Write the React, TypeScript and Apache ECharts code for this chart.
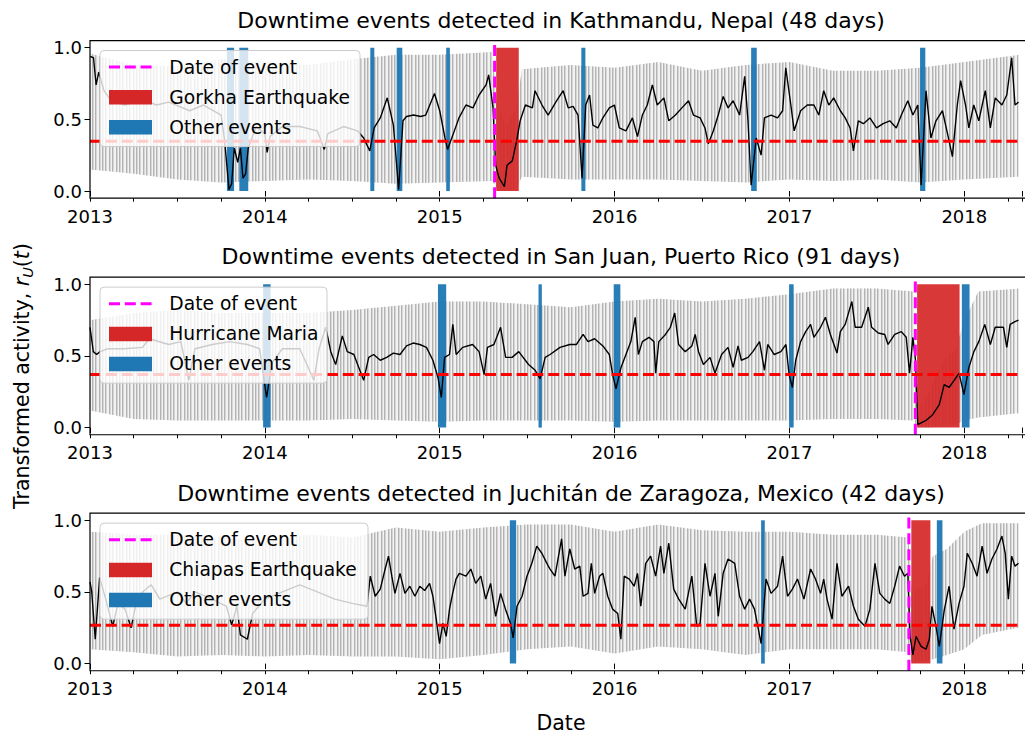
import React, { useEffect, useRef } from 'react';
import * as echarts from 'echarts';

const FONT = 'DejaVu Sans';
const X_MIN = 2013;
const X_MAX = 2018.33;

const titles = [
  'Downtime events detected in Kathmandu, Nepal (48 days)',
  'Downtime events detected in San Juan, Puerto Rico (91 days)',
  'Downtime events detected in Juchitán de Zaragoza, Mexico (42 days)',
];
const eventNames = ['Gorkha Earthquake', 'Hurricane Maria', 'Chiapas Earthquake'];
const eventDates = [2015.314, 2017.72, 2017.683];
const eventSpans = [
  [2015.323, 2015.452],
  [2017.73, 2017.973],
  [2017.697, 2017.806],
];
const thresholds = [0.347, 0.37, 0.267];

const otherEvents1 = [
  [2013.783, 2013.824], [2013.854, 2013.905], [2014.603, 2014.626], [2014.754, 2014.786],
  [2015.037, 2015.058], [2015.81, 2015.833], [2016.781, 2016.813], [2017.747, 2017.777],
];
const otherEvents2 = [
  [2013.99, 2014.033], [2014.99, 2015.037], [2015.565, 2015.584], [2015.995, 2016.033],
  [2016.998, 2017.024], [2017.986, 2018.03],
];
const otherEvents3 = [
  [2015.401, 2015.437], [2016.838, 2016.859], [2017.843, 2017.875],
];

// smoothed activity (black line): [decimal year, value]
const smooth1 = [
  [2013.0, 0.94], [2013.02, 0.93], [2013.035, 0.74], [2013.05, 0.83], [2013.08, 0.7], [2013.12, 0.63],
  [2013.2, 0.6], [2013.3, 0.64], [2013.38, 0.6], [2013.45, 0.62], [2013.57, 0.56], [2013.65, 0.6],
  [2013.75, 0.53], [2013.77, 0.35], [2013.795, 0.01], [2013.81, 0.05], [2013.825, 0.3], [2013.845, 0.2],
  [2013.86, 0.3], [2013.875, 0.09], [2013.89, 0.12], [2013.905, 0.3], [2013.95, 0.45], [2014.0, 0.4],
  [2014.013, 0.27], [2014.03, 0.38], [2014.1, 0.45], [2014.2, 0.45], [2014.3, 0.42], [2014.34, 0.29],
  [2014.36, 0.4], [2014.45, 0.45], [2014.53, 0.42], [2014.565, 0.37], [2014.6, 0.28], [2014.625, 0.44],
  [2014.66, 0.51], [2014.7, 0.65], [2014.735, 0.46], [2014.765, 0.01], [2014.79, 0.49], [2014.81, 0.52],
  [2014.85, 0.53], [2014.89, 0.52], [2014.92, 0.53], [2014.97, 0.68], [2015.0, 0.56], [2015.03, 0.37],
  [2015.045, 0.29], [2015.075, 0.39], [2015.11, 0.51], [2015.15, 0.6], [2015.19, 0.58], [2015.225, 0.67],
  [2015.265, 0.74], [2015.28, 0.81], [2015.305, 0.58], [2015.32, 0.18], [2015.34, 0.09], [2015.37, 0.03],
  [2015.385, 0.18], [2015.415, 0.21], [2015.44, 0.35], [2015.46, 0.49], [2015.49, 0.6], [2015.53, 0.58],
  [2015.545, 0.7], [2015.585, 0.6], [2015.62, 0.53], [2015.669, 0.63], [2015.706, 0.7], [2015.735, 0.58],
  [2015.763, 0.59], [2015.791, 0.53], [2015.814, 0.09], [2015.835, 0.6], [2015.857, 0.67], [2015.876, 0.46],
  [2015.904, 0.44], [2015.933, 0.51], [2015.97, 0.58], [2015.999, 0.6], [2016.027, 0.44], [2016.065, 0.42],
  [2016.102, 0.51], [2016.131, 0.38], [2016.159, 0.53], [2016.187, 0.6], [2016.216, 0.74], [2016.244, 0.6],
  [2016.282, 0.65], [2016.31, 0.49], [2016.348, 0.53], [2016.385, 0.58], [2016.423, 0.63], [2016.451, 0.53],
  [2016.489, 0.51], [2016.517, 0.44], [2016.536, 0.33], [2016.565, 0.42], [2016.593, 0.53], [2016.621, 0.66],
  [2016.649, 0.58], [2016.678, 0.63], [2016.715, 0.53], [2016.744, 0.8], [2016.763, 0.49], [2016.781, 0.04],
  [2016.81, 0.37], [2016.838, 0.25], [2016.857, 0.51], [2016.895, 0.53], [2016.932, 0.51], [2016.961, 0.56],
  [2016.979, 0.86], [2017.008, 0.6], [2017.027, 0.42], [2017.064, 0.56], [2017.102, 0.6], [2017.14, 0.6],
  [2017.168, 0.53], [2017.196, 0.7], [2017.225, 0.6], [2017.253, 0.65], [2017.291, 0.56], [2017.319, 0.51],
  [2017.347, 0.44], [2017.366, 0.28], [2017.394, 0.49], [2017.423, 0.47], [2017.46, 0.51], [2017.498, 0.44],
  [2017.536, 0.47], [2017.574, 0.49], [2017.611, 0.44], [2017.64, 0.53], [2017.677, 0.63], [2017.706, 0.53],
  [2017.734, 0.6], [2017.753, 0.04], [2017.781, 0.7], [2017.809, 0.37], [2017.838, 0.49], [2017.875, 0.56],
  [2017.904, 0.4], [2017.932, 0.24], [2017.96, 0.6], [2017.979, 0.77], [2018.007, 0.6], [2018.026, 0.44],
  [2018.054, 0.6], [2018.083, 0.49], [2018.12, 0.7], [2018.149, 0.44], [2018.177, 0.65], [2018.215, 0.6],
  [2018.243, 0.67], [2018.271, 0.93], [2018.29, 0.6], [2018.31, 0.62],
];
const smooth2 = [
  [2013.0, 0.7], [2013.019, 0.53], [2013.038, 0.51], [2013.057, 0.53], [2013.1, 0.55], [2013.2, 0.55],
  [2013.3, 0.56], [2013.34, 0.62], [2013.45, 0.58], [2013.52, 0.6], [2013.565, 0.33], [2013.6, 0.55],
  [2013.7, 0.58], [2013.8, 0.6], [2013.9, 0.58], [2013.97, 0.55], [2014.01, 0.21], [2014.04, 0.45],
  [2014.1, 0.55], [2014.2, 0.55], [2014.28, 0.33], [2014.31, 0.55], [2014.348, 0.7], [2014.377, 0.53],
  [2014.405, 0.44], [2014.443, 0.64], [2014.471, 0.53], [2014.509, 0.51], [2014.537, 0.42], [2014.565, 0.33],
  [2014.594, 0.49], [2014.622, 0.51], [2014.66, 0.47], [2014.697, 0.49], [2014.735, 0.52], [2014.773, 0.51],
  [2014.81, 0.57], [2014.848, 0.59], [2014.886, 0.58], [2014.924, 0.56], [2014.961, 0.47], [2014.99, 0.35],
  [2015.009, 0.21], [2015.028, 0.49], [2015.056, 0.51], [2015.075, 0.72], [2015.094, 0.51], [2015.131, 0.56],
  [2015.188, 0.58], [2015.225, 0.53], [2015.254, 0.37], [2015.273, 0.56], [2015.31, 0.58], [2015.348, 0.7],
  [2015.377, 0.49], [2015.414, 0.49], [2015.452, 0.53], [2015.508, 0.44], [2015.546, 0.4], [2015.574, 0.34],
  [2015.603, 0.49], [2015.631, 0.51], [2015.688, 0.56], [2015.744, 0.58], [2015.782, 0.58], [2015.82, 0.65],
  [2015.848, 0.6], [2015.886, 0.62], [2015.933, 0.57], [2015.97, 0.51], [2015.989, 0.37], [2016.008, 0.27],
  [2016.037, 0.42], [2016.065, 0.51], [2016.093, 0.6], [2016.118, 0.77], [2016.136, 0.51], [2016.159, 0.6],
  [2016.197, 0.63], [2016.225, 0.6], [2016.235, 0.38], [2016.253, 0.6], [2016.291, 0.65], [2016.319, 0.7],
  [2016.344, 0.8], [2016.366, 0.58], [2016.404, 0.53], [2016.442, 0.57], [2016.461, 0.65], [2016.48, 0.53],
  [2016.508, 0.44], [2016.546, 0.49], [2016.574, 0.38], [2016.612, 0.51], [2016.649, 0.56], [2016.678, 0.42],
  [2016.706, 0.57], [2016.725, 0.47], [2016.763, 0.49], [2016.791, 0.53], [2016.829, 0.6], [2016.857, 0.4],
  [2016.876, 0.58], [2016.913, 0.51], [2016.951, 0.53], [2016.98, 0.58], [2016.998, 0.37], [2017.017, 0.28],
  [2017.036, 0.47], [2017.064, 0.6], [2017.093, 0.67], [2017.121, 0.72], [2017.14, 0.63], [2017.178, 0.7],
  [2017.206, 0.77], [2017.234, 0.65], [2017.272, 0.52], [2017.291, 0.67], [2017.319, 0.72], [2017.357, 0.88],
  [2017.376, 0.7], [2017.413, 0.7], [2017.451, 0.84], [2017.47, 0.7], [2017.508, 0.66], [2017.545, 0.65],
  [2017.564, 0.58], [2017.602, 0.65], [2017.64, 0.67], [2017.668, 0.63], [2017.687, 0.38], [2017.706, 0.63],
  [2017.721, 0.47], [2017.734, 0.02], [2017.781, 0.05], [2017.819, 0.09], [2017.857, 0.16], [2017.885, 0.3],
  [2017.913, 0.28], [2017.942, 0.33], [2017.97, 0.38], [2017.998, 0.23], [2018.026, 0.42], [2018.055, 0.53],
  [2018.083, 0.6], [2018.117, 0.72], [2018.149, 0.58], [2018.177, 0.7], [2018.224, 0.7], [2018.243, 0.56],
  [2018.262, 0.72], [2018.29, 0.74], [2018.31, 0.75],
];
const smooth3 = [
  [2013.0, 0.57], [2013.01, 0.5], [2013.03, 0.17], [2013.055, 0.6], [2013.09, 0.45], [2013.13, 0.26],
  [2013.16, 0.42], [2013.2, 0.38], [2013.235, 0.25], [2013.26, 0.4], [2013.3, 0.5], [2013.35, 0.55],
  [2013.4, 0.45], [2013.5, 0.5], [2013.55, 0.42], [2013.6, 0.5], [2013.7, 0.45], [2013.78, 0.4],
  [2013.81, 0.27], [2013.84, 0.4], [2013.86, 0.2], [2013.9, 0.17], [2013.93, 0.35], [2014.0, 0.45],
  [2014.1, 0.5], [2014.2, 0.55], [2014.3, 0.5], [2014.4, 0.45], [2014.5, 0.42], [2014.584, 0.4],
  [2014.603, 0.61], [2014.631, 0.47], [2014.66, 0.52], [2014.688, 0.66], [2014.707, 0.75], [2014.726, 0.61],
  [2014.744, 0.49], [2014.773, 0.63], [2014.801, 0.49], [2014.829, 0.54], [2014.858, 0.47], [2014.886, 0.54],
  [2014.914, 0.51], [2014.942, 0.56], [2014.961, 0.47], [2014.98, 0.31], [2014.999, 0.14], [2015.018, 0.28],
  [2015.037, 0.19], [2015.056, 0.38], [2015.074, 0.49], [2015.093, 0.59], [2015.112, 0.63], [2015.15, 0.61],
  [2015.178, 0.66], [2015.206, 0.56], [2015.235, 0.61], [2015.263, 0.45], [2015.291, 0.56], [2015.32, 0.33],
  [2015.348, 0.49], [2015.376, 0.38], [2015.405, 0.28], [2015.42, 0.18], [2015.442, 0.4], [2015.471, 0.47],
  [2015.499, 0.61], [2015.527, 0.7], [2015.555, 0.82], [2015.584, 0.77], [2015.621, 0.68], [2015.631, 0.66],
  [2015.659, 0.61], [2015.697, 0.87], [2015.716, 0.61], [2015.744, 0.8], [2015.772, 0.66], [2015.801, 0.68],
  [2015.82, 0.47], [2015.848, 0.49], [2015.867, 0.7], [2015.886, 0.49], [2015.914, 0.61], [2015.933, 0.63],
  [2015.961, 0.47], [2015.989, 0.38], [2016.018, 0.35], [2016.036, 0.17], [2016.055, 0.61], [2016.084, 0.59],
  [2016.112, 0.54], [2016.131, 0.63], [2016.15, 0.4], [2016.178, 0.7], [2016.206, 0.75], [2016.235, 0.61],
  [2016.263, 0.82], [2016.282, 0.63], [2016.31, 0.84], [2016.338, 0.52], [2016.367, 0.45], [2016.404, 0.38],
  [2016.442, 0.61], [2016.47, 0.26], [2016.489, 0.28], [2016.517, 0.7], [2016.546, 0.47], [2016.574, 0.63],
  [2016.593, 0.33], [2016.621, 0.63], [2016.649, 0.73], [2016.687, 0.7], [2016.715, 0.47], [2016.744, 0.38],
  [2016.772, 0.45], [2016.8, 0.38], [2016.838, 0.14], [2016.866, 0.59], [2016.895, 0.49], [2016.932, 0.54],
  [2016.961, 0.75], [2016.989, 0.47], [2017.017, 0.52], [2017.046, 0.59], [2017.083, 0.45], [2017.121, 0.66],
  [2017.149, 0.59], [2017.178, 0.49], [2017.196, 0.59], [2017.215, 0.45], [2017.244, 0.31], [2017.272, 0.7],
  [2017.3, 0.47], [2017.338, 0.54], [2017.366, 0.4], [2017.394, 0.31], [2017.432, 0.26], [2017.46, 0.38],
  [2017.489, 0.7], [2017.517, 0.49], [2017.545, 0.45], [2017.574, 0.42], [2017.602, 0.54], [2017.63, 0.68],
  [2017.658, 0.61], [2017.677, 0.63], [2017.69, 0.19], [2017.706, 0.06], [2017.724, 0.19], [2017.753, 0.12],
  [2017.781, 0.1], [2017.8, 0.17], [2017.815, 0.4], [2017.838, 0.26], [2017.857, 0.12], [2017.885, 0.37],
  [2017.913, 0.54], [2017.941, 0.24], [2017.97, 0.42], [2017.998, 0.54], [2018.017, 0.77], [2018.045, 0.7],
  [2018.073, 0.61], [2018.102, 0.82], [2018.13, 0.63], [2018.158, 0.73], [2018.187, 0.8], [2018.215, 0.89],
  [2018.234, 0.77], [2018.252, 0.45], [2018.271, 0.75], [2018.29, 0.68], [2018.31, 0.7],
];

// daily activity (grey): typical upper / lower extent
const env1X = [2013.0, 2013.25, 2013.5, 2013.75, 2014.0, 2014.25, 2014.5, 2014.75, 2015.0, 2015.3, 2015.33, 2015.38, 2015.44, 2015.47, 2015.75, 2016.0, 2016.25, 2016.5, 2016.75, 2017.0, 2017.25, 2017.5, 2017.75, 2018.0, 2018.31];
const env1Hi = [0.96, 0.88, 0.87, 0.92, 0.9, 0.88, 0.92, 0.95, 0.95, 0.97, 0.6, 0.45, 0.6, 0.85, 0.88, 0.86, 0.9, 0.84, 0.88, 0.9, 0.84, 0.84, 0.86, 0.9, 0.95];
const env1Lo = [0.15, 0.12, 0.08, 0.06, 0.07, 0.08, 0.07, 0.05, 0.06, 0.07, 0.02, 0.0, 0.02, 0.1, 0.08, 0.08, 0.08, 0.07, 0.06, 0.08, 0.07, 0.08, 0.06, 0.08, 0.1];
const env2X = [2013.0, 2013.25, 2013.5, 2013.75, 2014.0, 2014.25, 2014.5, 2014.75, 2015.0, 2015.25, 2015.5, 2015.75, 2016.0, 2016.25, 2016.5, 2016.75, 2017.0, 2017.25, 2017.5, 2017.71, 2017.73, 2017.8, 2017.87, 2017.95, 2018.0, 2018.08, 2018.31];
const env2Hi = [0.75, 0.8, 0.82, 0.8, 0.8, 0.8, 0.82, 0.85, 0.88, 0.88, 0.86, 0.84, 0.88, 0.9, 0.88, 0.9, 0.93, 0.97, 0.97, 0.95, 0.12, 0.25, 0.45, 0.55, 0.75, 0.95, 0.97];
const env2Lo = [0.12, 0.06, 0.05, 0.05, 0.05, 0.05, 0.06, 0.05, 0.04, 0.05, 0.05, 0.05, 0.04, 0.05, 0.05, 0.05, 0.05, 0.06, 0.06, 0.05, 0.0, 0.0, 0.01, 0.02, 0.05, 0.07, 0.1];
const env3X = [2013.0, 2013.25, 2013.5, 2013.75, 2014.0, 2014.25, 2014.5, 2014.75, 2015.0, 2015.25, 2015.5, 2015.75, 2016.0, 2016.25, 2016.5, 2016.75, 2017.0, 2017.25, 2017.5, 2017.68, 2017.7, 2017.78, 2017.82, 2017.9, 2018.0, 2018.1, 2018.31];
const env3Hi = [0.92, 0.9, 0.9, 0.88, 0.85, 0.9, 0.88, 0.95, 0.92, 0.95, 0.97, 0.97, 0.92, 0.97, 0.93, 0.92, 0.92, 0.9, 0.9, 0.88, 0.5, 0.55, 0.75, 0.8, 0.92, 0.98, 0.98];
const env3Lo = [0.1, 0.08, 0.05, 0.06, 0.05, 0.06, 0.05, 0.05, 0.03, 0.06, 0.1, 0.12, 0.07, 0.12, 0.1, 0.06, 0.1, 0.1, 0.1, 0.08, 0.0, 0.02, 0.03, 0.06, 0.1, 0.2, 0.25];

const legendLabels = ['Date of event', 'Other events'];

// ---------- layout (pixels) ----------
const GRID_LEFT = 90;
const GRID_RIGHT = -8;
const GRID_TOPS = [47.7, 284.3, 520.3];
const GRID_H = 143.3;
const PAD = 7.17; // 0.05 data-units margin drawn by the frame
const LEGEND_W = [260, 227, 268];

const panels = [
  { smooth: smooth1, envX: env1X, envHi: env1Hi, envLo: env1Lo, others: otherEvents1 },
  { smooth: smooth2, envX: env2X, envHi: env2Hi, envLo: env2Lo, others: otherEvents2 },
  { smooth: smooth3, envX: env3X, envHi: env3Hi, envLo: env3Lo, others: otherEvents3 },
];

function makeStripePattern(): any {
  // fill texture imitating the dense daily grey strokes
  const w = 17;
  const h = 4;
  const c = document.createElement('canvas');
  c.width = w;
  c.height = h;
  const ctx = c.getContext('2d');
  if (ctx) {
    ctx.clearRect(0, 0, w, h);
    ctx.fillStyle = 'rgba(140,140,140,0.62)';
    [0, 3, 7, 10, 14].forEach((x) => ctx.fillRect(x, 0, 1, h));
    ctx.fillStyle = 'rgba(140,140,140,0.28)';
    [1, 4, 8, 11, 15].forEach((x) => ctx.fillRect(x, 0, 1, h));
  }
  return { image: c.toDataURL(), repeat: 'repeat', imageWidth: w, imageHeight: h };
}

function buildOption() {
  const grids: any[] = [];
  const xAxes: any[] = [];
  const yAxes: any[] = [];
  const series: any[] = [];
  const graphics: any[] = [];
  const dash = [11, 4.8];
  const stripes = makeStripePattern();

  panels.forEach((p, i) => {
    const top = GRID_TOPS[i];
    grids.push({ left: GRID_LEFT, right: GRID_RIGHT, top, height: GRID_H });
    xAxes.push({
      type: 'value', gridIndex: i, min: X_MIN, max: X_MAX, interval: 1, position: 'bottom', offset: PAD,
      axisLine: { show: false },
      axisTick: { show: true, length: 5.5, lineStyle: { color: '#000', width: 1 } },
      axisLabel: {
        show: true, color: '#000', fontSize: 18, fontFamily: FONT, margin: 9,
        formatter: (v: number) => (Math.abs(v - Math.round(v)) < 1e-6 ? String(Math.round(v)) : ''),
      },
      splitLine: { show: false },
    });
    xAxes.push({
      type: 'value', gridIndex: i, min: X_MIN, max: X_MAX, interval: 0.25, position: 'bottom', offset: PAD,
      axisLine: { show: false },
      axisTick: { show: true, length: 3.5, lineStyle: { color: '#000', width: 1 } },
      axisLabel: { show: false },
      splitLine: { show: false },
    });
    yAxes.push({
      type: 'value', gridIndex: i, min: 0, max: 1, interval: 0.5,
      axisLine: { show: false },
      axisTick: { show: true, length: 5.5, lineStyle: { color: '#000', width: 1 } },
      axisLabel: { color: '#000', fontSize: 18, fontFamily: FONT, margin: 8, formatter: (v: number) => v.toFixed(1) },
      splitLine: { show: false },
    });
    const xi = 2 * i;

    // grey daily band: polygon between lower and upper extent
    series.push({
      type: 'custom', xAxisIndex: xi, yAxisIndex: i, silent: true, z: 1,
      data: [[p.envX[0], p.envLo[0]]],
      encode: { x: 0, y: 1 },
      renderItem: (params: any, api: any) => {
        const upper = p.envX.map((x, k) => api.coord([x, p.envHi[k]]));
        const lower = p.envX.map((x, k) => api.coord([x, p.envLo[k]])).reverse();
        const pts = upper.concat(lower);
        return {
          type: 'group',
          children: [
            { type: 'polygon', shape: { points: pts }, style: { fill: 'rgba(128,128,128,0.1)' } },
            { type: 'polygon', shape: { points: pts }, style: { fill: stripes } },
          ],
        };
      },
    });
    const rects = p.others.map((r) => [r[0], r[1], 0]).concat([[eventSpans[i][0], eventSpans[i][1], 1]]);
    series.push({
      type: 'custom', xAxisIndex: xi, yAxisIndex: i, silent: true, z: 2,
      data: rects,
      encode: { x: [0, 1], y: 2 },
      renderItem: (params: any, api: any) => {
        const a = api.coord([api.value(0), 1]);
        const b = api.coord([api.value(1), 0]);
        const isRed = api.value(2) === 1;
        return {
          type: 'rect',
          shape: { x: a[0], y: a[1], width: b[0] - a[0], height: b[1] - a[1] },
          style: { fill: isRed ? '#d62728' : '#1f77b4', opacity: isRed ? 0.92 : 0.95 },
        };
      },
    });
    series.push({
      type: 'line', xAxisIndex: xi, yAxisIndex: i, symbol: 'none', silent: true, z: 3,
      data: p.smooth, lineStyle: { color: '#000', width: 1.4 },
    });
    series.push({
      type: 'line', xAxisIndex: xi, yAxisIndex: i, symbol: 'none', silent: true, z: 4,
      data: [[X_MIN, thresholds[i]], [X_MAX, thresholds[i]]],
      lineStyle: { color: '#ff0000', width: 3, type: dash },
    });
    series.push({
      type: 'line', xAxisIndex: xi, yAxisIndex: i, symbol: 'none', silent: true, z: 5, clip: false,
      data: [[eventDates[i], -0.05], [eventDates[i], 1.05]],
      lineStyle: { color: '#ff00ff', width: 3, type: dash },
    });

    // frame
    const ft = top - PAD;
    graphics.push({
      type: 'rect', z: 50, silent: true,
      shape: { x: GRID_LEFT, y: ft, width: 1025 - GRID_LEFT - GRID_RIGHT, height: GRID_H + 2 * PAD },
      style: { fill: 'none', stroke: '#000', lineWidth: 1.2 },
    });
    // title
    graphics.push({
      type: 'text', z: 60, silent: true, x: 561, y: [20, 256.2, 493.7][i],
      style: {
        text: titles[i], fill: '#000', fontSize: 22, fontFamily: FONT,
        align: 'center', verticalAlign: 'middle', textAlign: 'center', textVerticalAlign: 'middle',
      },
    });
    // legend
    const lx = 100;
    const items: any[] = [
      {
        type: 'rect', shape: { x: lx, y: ft + 10, width: LEGEND_W[i], height: 96, r: 4 },
        style: { fill: 'rgba(255,255,255,0.8)', stroke: '#cccccc', lineWidth: 1 },
      },
      {
        type: 'line', shape: { x1: 109, y1: ft + 26.5, x2: 152, y2: ft + 26.5 },
        style: { stroke: '#ff00ff', lineWidth: 3, lineDash: dash },
      },
      { type: 'rect', shape: { x: 109, y: ft + 49.5, width: 43, height: 14.5 }, style: { fill: '#d62728' } },
      { type: 'rect', shape: { x: 109, y: ft + 79.5, width: 43, height: 14.5 }, style: { fill: '#1f77b4' } },
    ];
    const labs = [legendLabels[0], eventNames[i], legendLabels[1]];
    labs.forEach((t, k) => {
      items.push({
        type: 'text', x: 169.3, y: ft + 26.8 + 30 * k,
        style: {
          text: t, fill: '#000', fontSize: 18.7, fontFamily: FONT,
          align: 'left', verticalAlign: 'middle', textAlign: 'left', textVerticalAlign: 'middle',
        },
      });
    });
    graphics.push({ type: 'group', z: 100, silent: true, children: items.map((c) => ({ ...c, z: 100 })) });
  });

  graphics.push({
    type: 'text', z: 60, silent: true, x: 561, y: 722.5,
    style: {
      text: 'Date', fill: '#000', fontSize: 20.5, fontFamily: FONT,
      align: 'center', verticalAlign: 'middle', textAlign: 'center', textVerticalAlign: 'middle',
    },
  });
  graphics.push({
    type: 'text', z: 60, silent: true, x: 22, y: 376, rotation: Math.PI / 2,
    style: {
      text: '{a|Transformed activity, }{i|r}{s|U}{a|(}{i|t}{a|)}',
      fill: '#000', fontSize: 20.5, fontFamily: FONT,
      align: 'center', verticalAlign: 'middle', textAlign: 'center', textVerticalAlign: 'middle',
      rich: {
        a: { fontSize: 20.5, fontFamily: FONT, lineHeight: 26, fill: '#000', color: '#000' },
        i: { fontSize: 20.5, fontFamily: FONT, fontStyle: 'italic', lineHeight: 26, fill: '#000', color: '#000' },
        s: { fontSize: 14.5, fontFamily: FONT, fontStyle: 'italic', lineHeight: 14, verticalAlign: 'bottom', fill: '#000', color: '#000' },
      },
    },
  });

  return {
    animation: false,
    backgroundColor: '#ffffff',
    grid: grids,
    xAxis: xAxes,
    yAxis: yAxes,
    series,
    graphic: graphics,
  };
}

export default function App() {
  const ref = useRef<HTMLDivElement>(null);
  useEffect(() => {
    if (!ref.current) return;
    const chart = echarts.init(ref.current, undefined, { renderer: 'svg' });
    chart.setOption(buildOption() as any);
    return () => chart.dispose();
  }, []);
  return <div ref={ref} style={{ position: 'absolute', left: 0, top: 0, width: 1025, height: 735 }} />;
}
